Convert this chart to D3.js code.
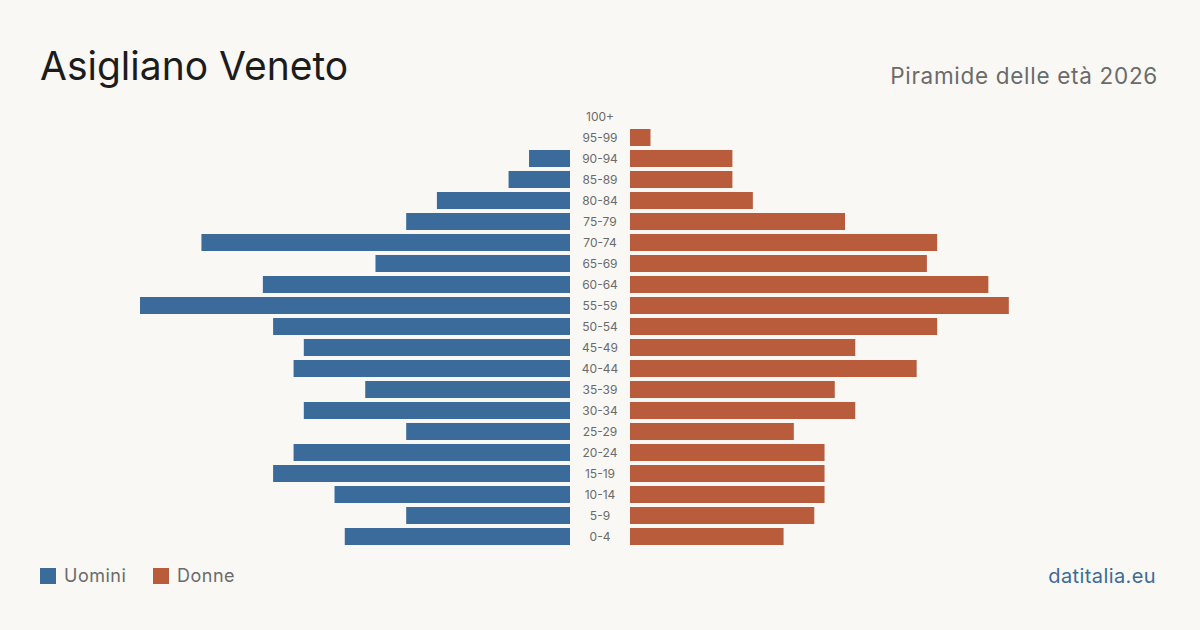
<!DOCTYPE html>
<html>
<head>
<meta charset="utf-8">
<script src="https://cdn.jsdelivr.net/npm/d3@7"></script>
<style>
  body { margin: 0; background: #f9f8f4; }
  svg { display: block; font-family: Inter, "Noto Sans", sans-serif; }
</style>
</head>
<body>
<div id="chart"></div>
<script>
// age groups from youngest to oldest
const ages = ["0-4", "5-9", "10-14", "15-19", "20-24", "25-29", "30-34", "35-39", "40-44", "45-49",
              "50-54", "55-59", "60-64", "65-69", "70-74", "75-79", "80-84", "85-89", "90-94", "95-99", "100+"];
const men   = [22, 16, 23, 29, 27, 16, 26, 20, 27, 26, 29, 42, 30, 19, 36, 16, 13, 6, 4, 0, 0];
const women = [15, 18, 19, 19, 19, 16, 22, 20, 28, 22, 30, 37, 35, 29, 30, 21, 12, 10, 10, 2, 0];

const W = 1200, H = 630;
const blue = "#3b6b9b", red = "#b85c3c";

const svg = d3.select("#chart").append("svg")
    .attr("width", W)
    .attr("height", H);

svg.append("rect").attr("width", W).attr("height", H).attr("fill", "#f9f8f4");

// Title
svg.append("text")
    .attr("x", 40)
    .attr("y", 80)
    .style("font-size", "39px")
    .attr("fill", "#1c1c1c")
    .text("Asigliano Veneto");

svg.append("text")
    .attr("x", 1158)
    .attr("y", 84)
    .attr("text-anchor", "end")
    .style("font-size", "22.5px")
    .style("letter-spacing", "0.7px")
    .attr("fill", "#6b6b6b")
    .text("Piramide delle età 2026");

const maxVal = d3.max(men.concat(women));

const y = d3.scaleBand()
    .domain(ages.slice().reverse())
    .range([104, 549])
    .padding(0.19);

const xMen = d3.scaleLinear().domain([0, maxVal]).range([570, 140]);
const xWomen = d3.scaleLinear().domain([0, maxVal]).range([630, 1060]);

const rows = ages.map((a, i) => ({ age: a, m: men[i], f: women[i] }));

svg.append("g").selectAll("rect")
    .data(rows.filter(d => d.m > 0))
    .enter().append("rect")
    .attr("x", d => xMen(d.m))
    .attr("y", d => y(d.age))
    .attr("width", d => xMen(0) - xMen(d.m))
    .attr("height", y.bandwidth())
    .attr("fill", blue);

svg.append("g").selectAll("rect")
    .data(rows.filter(d => d.f > 0))
    .enter().append("rect")
    .attr("x", xWomen(0))
    .attr("y", d => y(d.age))
    .attr("width", d => xWomen(d.f) - xWomen(0))
    .attr("height", y.bandwidth())
    .attr("fill", red);

// age labels in the middle
svg.append("g").selectAll("text")
    .data(rows)
    .enter().append("text")
    .attr("x", 600)
    .attr("y", d => y(d.age) + y.bandwidth() / 2)
    .attr("dy", "0.35em")
    .attr("text-anchor", "middle")
    .style("font-size", "12px")
    .attr("fill", "#6b6b6b")
    .text(d => d.age);

// Legend
const legendData = [
    { label: "Uomini", color: blue, x: 40 },
    { label: "Donne", color: red, x: 153 }
];

const legendItems = svg.append("g").selectAll("g")
    .data(legendData)
    .enter().append("g")
    .attr("transform", d => `translate(${d.x}, 568)`);

legendItems.append("rect")
    .attr("width", 16)
    .attr("height", 16)
    .attr("fill", d => d.color);

legendItems.append("text")
    .attr("x", 24)
    .attr("y", 8)
    .attr("dy", "0.35em")
    .style("font-size", "18px")
    .style("letter-spacing", "0.5px")
    .attr("fill", "#6b6b6b")
    .text(d => d.label);

svg.append("text")
    .attr("x", 1156)
    .attr("y", 583)
    .attr("text-anchor", "end")
    .style("font-size", "20px")
    .style("letter-spacing", "0.4px")
    .attr("fill", "#3b6b9b")
    .text("datitalia.eu");
</script>
</body>
</html>
